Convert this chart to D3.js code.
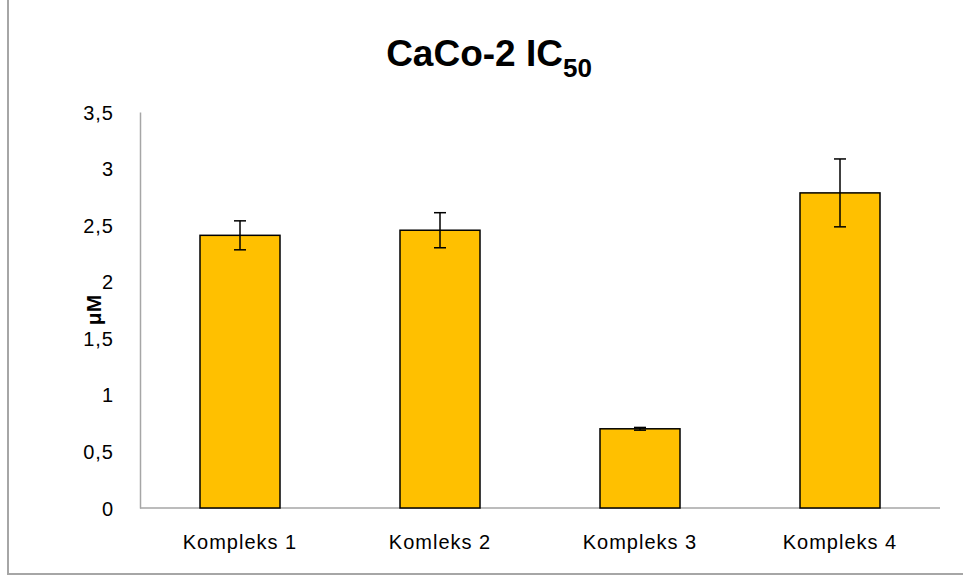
<!DOCTYPE html>
<html>
<head>
<meta charset="utf-8">
<script src="https://cdn.jsdelivr.net/npm/d3@7"></script>
<style>
  body { margin: 0; background: #fff; }
  text { font-family: "Liberation Sans", Arial, sans-serif; }
</style>
</head>
<body>
<div id="chart"></div>
<script>
"use strict"

// data
let categories = ["Kompleks 1", "Komleks 2", "Kompleks 3", "Kompleks 4"]
let values = [2.41, 2.455, 0.70, 2.785]
let errors = [0.128, 0.155, 0.012, 0.30]
let yTicks = [0, 0.5, 1, 1.5, 2, 2.5, 3, 3.5]

let width = 963, height = 579
let margin = {top: 112, right: 23, bottom: 71, left: 140}

let svg = d3.select("#chart").append("svg")
    .attr("width", width)
    .attr("height", height)

// outer frame (only left and bottom edges show)
svg.append("line")
    .attr("x1", 8).attr("x2", 8).attr("y1", 0).attr("y2", 575)
    .style("stroke", "#a6a6a6").style("stroke-width", 2)
svg.append("line")
    .attr("x1", 7).attr("x2", width).attr("y1", 574).attr("y2", 574)
    .style("stroke", "#a6a6a6").style("stroke-width", 2)

let x = d3.scaleBand()
    .domain(categories)
    .range([margin.left, width - margin.right])
    .paddingInner(0.6)
    .paddingOuter(0.3)

let y = d3.scaleLinear()
    .domain([0, 3.5])
    .range([height - margin.bottom, margin.top])

let fmt = d => String(d).replace(".", ",")

// y axis
let yAxis = d3.axisLeft(y).tickValues(yTicks).tickFormat(fmt).tickSize(0).tickPadding(26)
let gy = svg.append("g")
    .attr("transform", "translate(" + margin.left + ",0)")
    .call(yAxis)
gy.select(".domain").style("stroke", "#a6a6a6").style("stroke-width", 1.5)
gy.selectAll("text")
    .style("font-size", "20px")
    .style("letter-spacing", "1px")
    .style("fill", "#000")
    .attr("dy", "0.35em")

// x axis
let xAxis = d3.axisBottom(x).tickSize(0).tickPadding(27)
let gx = svg.append("g")
    .attr("transform", "translate(0," + y(0) + ")")
    .call(xAxis)
gx.select(".domain").attr("d", "M" + margin.left + ",0H" + (width - margin.right))
    .style("stroke", "#a6a6a6").style("stroke-width", 1.5)
gx.selectAll("text")
    .style("font-size", "20px")
    .style("letter-spacing", "1px")
    .style("fill", "#000")

// bars
svg.append("g").selectAll("rect")
    .data(values)
    .enter()
    .append("rect")
    .attr("x", (d, i) => x(categories[i]))
    .attr("y", d => y(d))
    .attr("width", x.bandwidth())
    .attr("height", d => y(0) - y(d))
    .style("fill", "#ffc000")
    .style("stroke", "#000")
    .style("stroke-width", 1.5)

// error bars
let capW = 6
let eg = svg.append("g").style("stroke", "#000").style("stroke-width", 1.5)
for(let i = 0; i < values.length; i++){
    let cx = x(categories[i]) + x.bandwidth() / 2
    let top = y(values[i] + errors[i])
    let bot = y(values[i] - errors[i])
    eg.append("line").attr("x1", cx).attr("x2", cx).attr("y1", top).attr("y2", bot)
    eg.append("line").attr("x1", cx - capW).attr("x2", cx + capW).attr("y1", top).attr("y2", top)
    eg.append("line").attr("x1", cx - capW).attr("x2", cx + capW).attr("y1", bot).attr("y2", bot)
}

// y axis title
svg.append("text")
    .attr("transform", "translate(101," + y(1.75) + ") rotate(-90)")
    .attr("text-anchor", "middle")
    .style("font-size", "21px")
    .style("font-weight", "bold")
    .text("μM")

// chart title
let title = svg.append("text")
    .attr("x", 489)
    .attr("y", 66)
    .attr("text-anchor", "middle")
    .style("font-size", "37px")
    .style("font-weight", "bold")
title.append("tspan").text("CaCo-2 IC")
title.append("tspan").attr("dy", 11).style("font-size", "26px").text("50")
</script>
</body>
</html>
